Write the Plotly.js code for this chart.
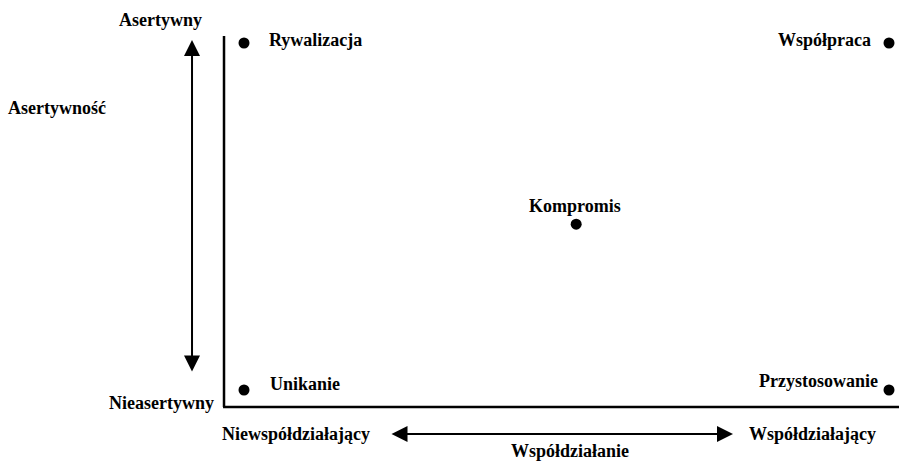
<!DOCTYPE html>
<html>
<head>
<meta charset="utf-8">
<script src="https://cdn.plot.ly/plotly-3.0.1.min.js"></script>
<style>html,body{margin:0;padding:0;background:#fff;}#chart{width:899px;height:462px;}</style>
</head>
<body>
<div id="chart"></div>
<script>
// Data
const styles = ["Rywalizacja", "Współpraca", "Kompromis", "Unikanie", "Przystosowanie"];
const cooperativeness = [0, 1, 0.515, 0, 1];
const assertiveness = [1, 1, 0.478, 0, 0];
const axisLabels = {
  yHigh: "Asertywny", yLow: "Nieasertywny", yTitle: "Asertywność",
  xLow: "Niewspółdziałający", xHigh: "Współdziałający", xTitle: "Współdziałanie"
};

const FONT = {family: "'Liberation Serif', 'Times New Roman', serif", size: 18, color: "#000"};
function B(t){ return "<b>" + t + "</b>"; }

// label placement per point
const labelPos = [
  {dx: 0.0357, dy: 0.0086, xa: "left", ya: "middle"},
  {dx: -0.0248, dy: 0.0086, xa: "right", ya: "middle"},
  {dx: -0.002, dy: 0.052, xa: "center", ya: "middle"},
  {dx: 0.0372, dy: 0.0173, xa: "left", ya: "middle"},
  {dx: -0.014, dy: 0.026, xa: "right", ya: "middle"}
];

const annotations = styles.map((s, i) => ({
  x: cooperativeness[i] + labelPos[i].dx, y: assertiveness[i] + labelPos[i].dy,
  xref: "x", yref: "y", text: B(s), showarrow: false,
  xanchor: labelPos[i].xa, yanchor: labelPos[i].ya, font: FONT
}));

// Axis arrows
const arrowStyle = {text: "", showarrow: true, arrowhead: 2, startarrowhead: 2, arrowside: "end+start",
  arrowsize: 1.6, startarrowsize: 1.6, arrowwidth: 2, arrowcolor: "#000", xref: "x", yref: "y", axref: "x", ayref: "y"};
annotations.push(Object.assign({x: -0.0806, y: 1.0086, ax: -0.0806, ay: 0.049}, arrowStyle));
annotations.push(Object.assign({x: 0.7581, y: -0.1268, ax: 0.2264, ay: -0.1268}, arrowStyle));

// Axis texts
const txt = (x, y, t, xa) => ({x: x, y: y, xref: "x", yref: "y", text: B(t), showarrow: false, xanchor: xa, yanchor: "middle", font: FONT});
annotations.push(txt(-0.1287, 1.066, axisLabels.yHigh, "center"));
annotations.push(txt(-0.290, 0.813, axisLabels.yTitle, "center"));
annotations.push(txt(-0.0434, -0.0375, axisLabels.yLow, "right"));
annotations.push(txt(0.0806, -0.1268, axisLabels.xLow, "center"));
annotations.push(txt(0.882, -0.1268, axisLabels.xHigh, "center"));
annotations.push(txt(0.505, -0.1758, axisLabels.xTitle, "center"));

const shapes = [
  {type: "line", xref: "x", yref: "y", x0: -0.031, x1: -0.031, y0: 1.020, y1: -0.049, line: {color: "#000", width: 2.5}},
  {type: "line", xref: "x", yref: "y", x0: -0.0325, x1: 1.02, y0: -0.049, y1: -0.049, line: {color: "#000", width: 2.5}}
];

const trace = {
  x: cooperativeness, y: assertiveness, text: styles, mode: "markers", type: "scatter",
  marker: {color: "#000", size: 11}, cliponaxis: false, hoverinfo: "text"
};

const layout = {
  width: 899, height: 462,
  margin: {l: 0, r: 0, t: 0, b: 0, pad: 0},
  paper_bgcolor: "#fff", plot_bgcolor: "#fff",
  showlegend: false,
  xaxis: {range: [-0.3783, 1.0155], visible: false, fixedrange: true},
  yaxis: {range: [-0.2075, 1.1239], visible: false, fixedrange: true},
  annotations: annotations, shapes: shapes,
  font: FONT
};

Plotly.newPlot("chart", [trace], layout, {displayModeBar: false, staticPlot: true});
</script>
</body>
</html>
